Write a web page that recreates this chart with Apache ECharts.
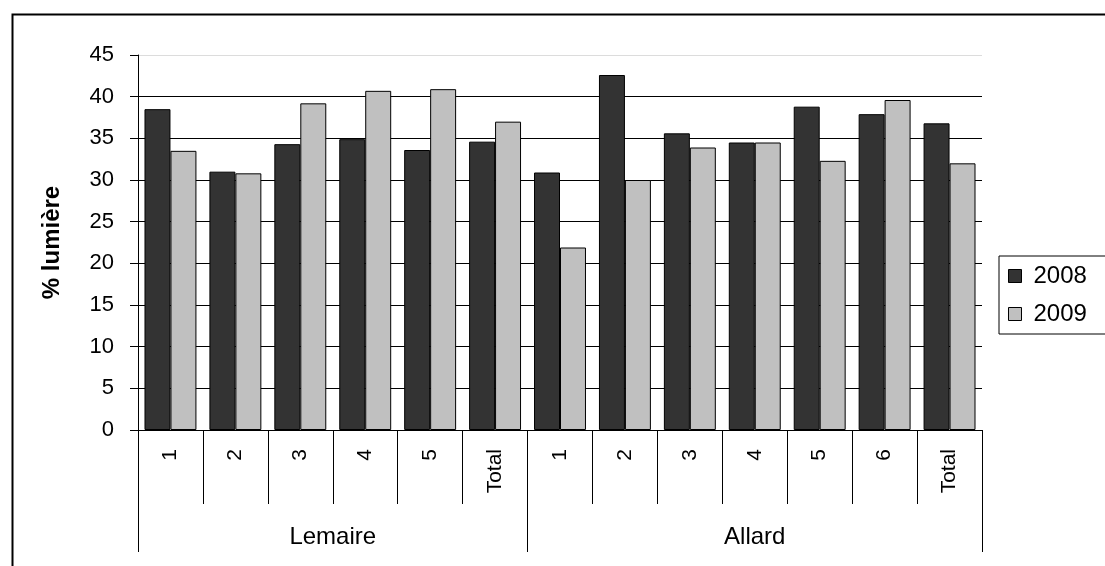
<!DOCTYPE html>
<html>
<head>
<meta charset="utf-8">
<script src="https://cdn.jsdelivr.net/npm/echarts@6/dist/echarts.min.js"></script>
<style>
html,body{margin:0;padding:0;background:#fff;}
#chart{width:1105px;height:566px;}
</style>
</head>
<body>
<div id="chart"></div>
<script>
// ---- data ----
var subLabels = ['1','2','3','4','5','Total','1','2','3','4','5','6','Total'];
var groupNames = ['Lemaire','Allard'];
var groupSizes = [6, 7];
var series2008 = [38.5, 31.0, 34.3, 34.9, 33.6, 34.6, 30.9, 42.6, 35.6, 34.5, 38.8, 37.9, 36.8];
var series2009 = [33.5, 30.8, 39.2, 40.7, 40.9, 37.0, 21.9, 30.0, 33.9, 34.5, 32.3, 39.6, 32.0];
var seriesNames = ['2008', '2009'];
var yTicks = [0, 5, 10, 15, 20, 25, 30, 35, 40, 45];

// group boundaries and centres (in category units)
var groupBounds = [0];
var groupCenters = [];
(function(){
  var acc = 0;
  for (var i = 0; i < groupSizes.length; i++) {
    groupCenters.push(acc + groupSizes[i] / 2);
    acc += groupSizes[i];
    groupBounds.push(acc);
  }
})();
var totalCats = groupBounds[groupBounds.length - 1];

var font = '"Liberation Sans", Arial, sans-serif';
var chart = echarts.init(document.getElementById('chart'), null, {renderer: 'canvas'});

var splitColors = yTicks.map(function(v, i){ return i === yTicks.length - 1 ? '#dcdcdc' : '#000'; });

chart.setOption({
  animation: false,
  backgroundColor: '#fff',
  grid: {left: 138, right: 123, top: 55, bottom: 136, containLabel: false},
  graphic: [{
    type: 'rect', left: 10, top: 12,
    shape: {width: 1200, height: 700},
    style: {fill: 'none', stroke: '#000', lineWidth: 2},
    silent: true, z: -10
  }],
  legend: {
    data: seriesNames,
    orient: 'vertical',
    left: 999, top: 256,
    padding: [8, 19, 8, 9],
    itemGap: 14,
    itemWidth: 13, itemHeight: 13,
    borderColor: '#000', borderWidth: 1,
    icon: 'rect',
    itemStyle: {borderColor: '#000', borderWidth: 1},
    textStyle: {fontFamily: font, fontSize: 24, color: '#000', padding: [0, 0, 0, 7]}
  },
  xAxis: [{
    type: 'category',
    data: subLabels,
    position: 'bottom',
    axisLine: {show: true, lineStyle: {color: '#000', width: 1}},
    axisTick: {show: true, interval: 0, length: 74, lineStyle: {color: '#000', width: 1}},
    axisLabel: {interval: 0, rotate: 90, margin: 19, fontFamily: font, fontSize: 21, color: '#000'},
    splitLine: {show: false}
  }, {
    type: 'value',
    min: 0, max: totalCats,
    position: 'bottom',
    axisLine: {show: false},
    axisTick: {show: true, length: 122, customValues: groupBounds, lineStyle: {color: '#000', width: 1}},
    axisLabel: {
      show: true, customValues: groupCenters, margin: 95,
      fontFamily: font, fontSize: 24, color: '#000',
      formatter: function(v){
        var idx = groupCenters.indexOf(v);
        return idx >= 0 ? groupNames[idx] : '';
      }
    },
    splitLine: {show: false}
  }],
  yAxis: {
    type: 'value',
    min: 0, max: 45, interval: 5,
    name: '% lumière',
    nameLocation: 'middle',
    nameGap: 74,
    nameRotate: 90,
    nameTextStyle: {fontFamily: font, fontSize: 24, fontWeight: 'bold', color: '#000'},
    axisLine: {show: true, lineStyle: {color: '#000', width: 1}},
    axisTick: {show: true, length: 8, lineStyle: {color: '#000'}},
    axisLabel: {margin: 24, fontFamily: font, fontSize: 22, color: '#000'},
    splitLine: {show: true, lineStyle: {color: splitColors, width: 1}}
  },
  series: [{
    name: seriesNames[0], type: 'bar', xAxisIndex: 0,
    data: series2008,
    barGap: '0%', barCategoryGap: '20%',
    itemStyle: {color: '#333333', borderColor: '#000', borderWidth: 1}
  }, {
    name: seriesNames[1], type: 'bar', xAxisIndex: 0,
    data: series2009,
    barGap: '0%', barCategoryGap: '20%',
    itemStyle: {color: '#c0c0c0', borderColor: '#000', borderWidth: 1}
  }]
});
</script>
</body>
</html>
